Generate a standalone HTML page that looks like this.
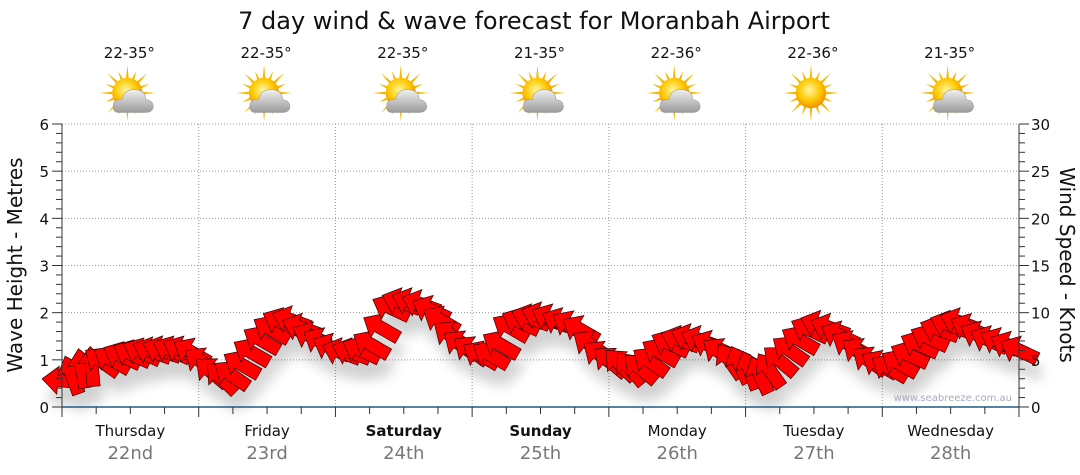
<!DOCTYPE html>
<html><head><meta charset="utf-8"><style>
body{margin:0;background:#fff;}
svg{display:block;font-family:"DejaVu Sans","Liberation Sans",sans-serif;}
</style></head><body>
<svg id="c" width="1080" height="475" viewBox="0 0 1080 475">
<defs>
<filter id="sh" x="-50%" y="-50%" width="200%" height="200%"><feGaussianBlur stdDeviation="6"/></filter>
<radialGradient id="sun" cx="0.45" cy="0.4" r="0.6"><stop offset="0" stop-color="#fff6a0"/><stop offset="0.6" stop-color="#ffc800"/><stop offset="1" stop-color="#f09000"/></radialGradient>
<linearGradient id="cloud" x1="0" y1="0" x2="0" y2="1"><stop offset="0" stop-color="#f0f0f0"/><stop offset="1" stop-color="#9a9a9a"/></linearGradient>
</defs>
<text x="534" y="29" text-anchor="middle" font-size="24" fill="#111">7 day wind &amp; wave forecast for Moranbah Airport</text>
<g id="grid"></g>
<g id="shadow" filter="url(#sh)" opacity="0.18"></g>
<g id="arrows"></g>
<g id="axes"></g>
<text x="1012" y="401" text-anchor="end" font-size="10" fill="#aab">www.seabreeze.com.au</text>
<text transform="translate(22,265) rotate(-90)" text-anchor="middle" font-size="20" fill="#111">Wave Height - Metres</text>
<text transform="translate(1060,265) rotate(90)" text-anchor="middle" font-size="20" fill="#111">Wind Speed - Knots</text>
</svg>
<script>
const days=["Thursday","Friday","Saturday","Sunday","Monday","Tuesday","Wednesday"];
const dates=["22nd","23rd","24th","25th","26th","27th","28th"];
const boldDays=[false,false,true,true,false,false,false];
const temps=["22-35°","22-35°","22-35°","21-35°","22-36°","22-36°","21-35°"];
const icons=["partly","partly","partly","partly","partly","sunny","partly"];
const leftTicks=[0,1,2,3,4,5,6];
const rightTicks=[0,5,10,15,20,25,30];
const windKnots=[2.8,3.4,4.1,4.3,4.8,5.0,5.4,5.6,5.8,5.9,6.0,6.0,6.0,5.8,
 4.8,3.7,3.1,3.4,4.5,5.8,7.1,8.2,9.0,9.2,8.4,7.5,6.9,6.3,5.8,5.8,6.0,6.6,
 8.4,10.5,11.1,11.1,10.9,10.3,9.2,7.6,6.6,6.0,5.5,5.5,6.6,8.4,9.0,9.4,9.6,9.4,
 9.0,8.7,8.2,6.6,5.5,4.8,4.5,4.1,4.1,4.8,5.8,6.7,7.1,7.3,7.1,6.6,5.8,4.9,4.5,
 3.9,3.4,3.9,4.9,6.0,7.1,8.2,8.7,8.4,7.6,6.6,5.8,4.9,4.5,4.1,4.6,5.5,6.6,7.3,
 8.2,8.7,9.0,8.4,7.6,7.1,6.9,6.5,6.0];
const windDir=[185,250,260,265,215,210,205,205,205,200,200,205,205,210,
 215,220,225,215,210,210,210,210,205,200,200,205,210,205,200,200,205,210,
 210,205,200,200,200,205,210,215,215,215,210,210,210,210,205,200,200,205,
 205,210,210,215,215,220,225,230,220,215,210,205,200,200,200,205,215,235,245,
 250,245,235,220,215,210,205,200,200,205,210,215,215,210,210,210,205,205,205,
 200,200,200,205,205,205,205,205,205];
const NS="http://www.w3.org/2000/svg";
const X0=62,X1=1019,Y0=407,Y1=124,DW=(X1-X0)/7;
const yL=v=>Y0-(v/6)*(Y0-Y1);
const yR=v=>Y0-(v/30)*(Y0-Y1);
const xT=i=>X0+i*((X1-X0)/(windKnots.length-1));
function mk(t,a,p){const e=document.createElementNS(NS,t);for(const k in a)e.setAttribute(k,a[k]);(p||document.getElementById('c')).appendChild(e);return e;}
const grid=document.getElementById('grid'),axes=document.getElementById('axes');
leftTicks.forEach(v=>{if(v>0){const l=mk('line',{x1:X0,x2:X1,y1:yL(v),y2:yL(v),stroke:'#999','stroke-dasharray':'1,2'},grid);

}
const t=mk('text',{x:49,y:yL(v)+6,'text-anchor':'end','font-size':15,fill:'#111'},axes);t.textContent=v;

});
rightTicks.forEach(v=>{const t=mk('text',{x:1031,y:yR(v)+6,'font-size':15,fill:'#111'},axes);t.textContent=v;

});
mk('line',{x1:X0,x2:X0,y1:Y1,y2:Y0,stroke:'#333'},axes);
mk('line',{x1:X1,x2:X1,y1:Y1,y2:Y0,stroke:'#333'},axes);
for(let k=0;k<=30;k++){const y=yR(k);const big=k%5==0;
mk('line',{x1:X0,x2:X0-(big?10:6),y1:y,y2:y,stroke:'#333'},axes);
mk('line',{x1:X1,x2:X1+(big?10:6),y1:y,y2:y,stroke:'#333'},axes);}
for(let d=1;d<7;d++){const x=X0+d*DW;const l=mk('line',{x1:x,x2:x,y1:Y1,y2:Y0,stroke:'#999','stroke-dasharray':'1,2'},grid);

}
mk('line',{x1:X0,x2:X1,y1:Y0,y2:Y0,stroke:'#1f5a85','stroke-width':1.5},axes);
for(let q=0;q<=28;q++){const x=X0+q*DW/4;mk('line',{x1:x,x2:x,y1:Y0,y2:Y0+(q%4==0?10:7),stroke:'#333'},axes);}
days.forEach((d,i)=>{const cx=X0+(i+0.5)*DW;
const t=mk('text',{x:cx,y:436,'text-anchor':'middle','font-size':15,fill:'#111','font-weight':boldDays[i]?'bold':'normal'});t.textContent=d;


const t2=mk('text',{x:cx,y:459,'text-anchor':'middle','font-size':18,fill:'#777'});t2.textContent=dates[i];


const t3=mk('text',{x:cx-1,y:58,'text-anchor':'middle','font-size':15,fill:'#111'});t3.textContent=temps[i];


const g=mk('g',{transform:`translate(${cx-3},93) scale(1.08)`});


for(let r=0;r<16;r++){const a=r*Math.PI/8;const L=r%2?22:26;
mk('polygon',{points:`${Math.cos(a)*L},${Math.sin(a)*L} ${Math.cos(a+0.12)*12},${Math.sin(a+0.12)*12} ${Math.cos(a-0.12)*12},${Math.sin(a-0.12)*12}`,fill:'#f5b800'},g);}
mk('circle',{cx:0,cy:0,r:14,fill:'url(#sun)'},g);
if(icons[i]=='partly'){mk('path',{d:'M-8,18 Q-14,18 -13,11 Q-12,5 -5,6 Q-3,-4 8,-3 Q17,-2 17,6 Q24,7 24,13 Q23,18 17,18 Z',fill:'url(#cloud)',stroke:'#999','stroke-width':0.5},g);}
});
const sh=document.getElementById('shadow'),ar=document.getElementById('arrows');
const shape='M20,0 L4,-14 L4,-6.5 L-20,-6.5 L-20,6.5 L4,6.5 L4,14 Z';
windKnots.forEach((v,i)=>{const x=xT(i),y=yR(v);
mk('path',{d:shape,transform:`translate(${x+4},${y+16}) rotate(${windDir[i]})`,fill:'#000'},sh);
const p=mk('path',{d:shape,transform:`translate(${x},${y}) rotate(${windDir[i]})`,fill:'#ff0000',stroke:'#3a0000','stroke-width':0.7},ar);

});
</script>
</body></html>
